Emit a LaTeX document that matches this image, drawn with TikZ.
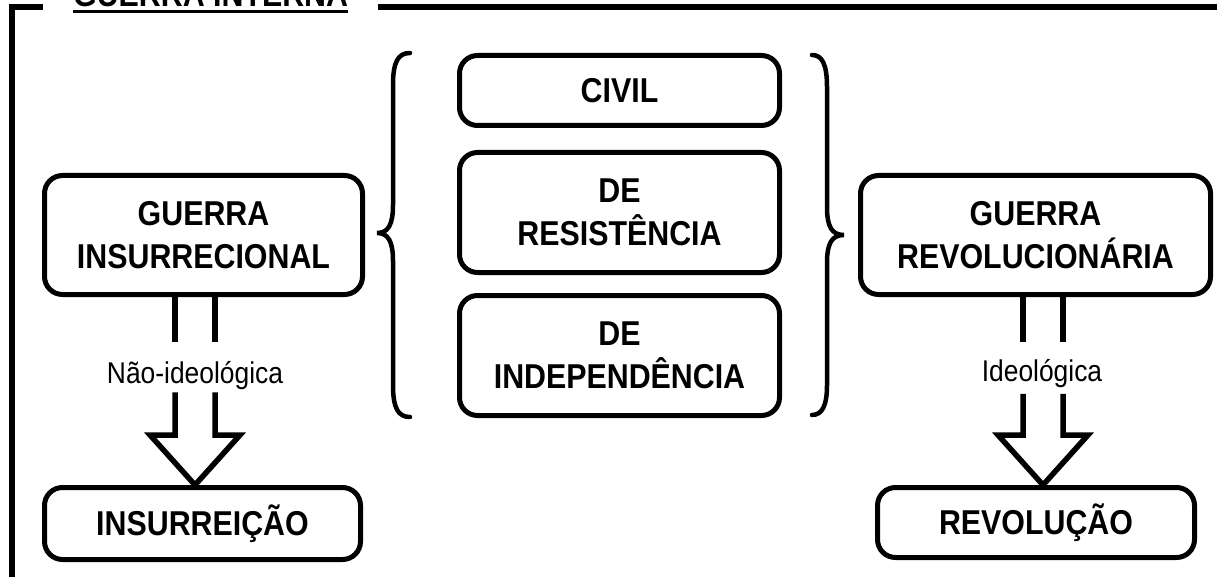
\documentclass[tikz,border=0pt]{standalone}
\usepackage{fontspec}
\setmainfont{Liberation Sans}[FakeStretch=0.88]
\usetikzlibrary{calc}
\begin{document}
\begin{tikzpicture}[x=1pt,y=-1pt,
  box/.style={draw, line width=5pt, rounded corners=18pt, align=center,
    font=\bfseries\fontsize{34.5}{43}\selectfont, inner sep=0pt},
  onebox/.style={box, text height=24.5pt, text depth=0pt},
  framepart/.style={line width=6pt, line join=miter},
  harrow/.style={line width=5.5pt, line join=miter},
  brace/.style={line width=4.5pt, line cap=round},
  lbl/.style={font=\fontsize{30}{34}\selectfont, inner sep=0pt, text height=21.5pt, text depth=0pt}]
\useasboundingbox (0,0) rectangle (1217,577);

% title and frame
\node[font=\bfseries\fontsize{34.5}{40}\selectfont, anchor=base west, inner sep=0pt] (title) at (73,7) {GUERRA INTERNA};
\draw[line width=2.5pt] ($(title.base west)+(0,4.5)$) -- ($(title.base east)+(0,4.5)$);
\draw[framepart] (43,7) -- (11.5,7) -- (11.5,590);
\draw[framepart] (378,7) -- (1230,7);

% boxes
\node[box, minimum width=318pt, minimum height=119pt] (gi) at (203.5,235) {GUERRA\\INSURRECIONAL};
\node[box, minimum width=350pt, minimum height=119pt] (gr) at (1035.5,235) {GUERRA\\REVOLUCIONÁRIA};
\node[onebox, minimum width=320pt, minimum height=70pt] (civ) at (619.5,90.5) {CIVIL};
\node[box, minimum width=320pt, minimum height=120pt] (res) at (619.5,212.5) {DE\\RESISTÊNCIA};
\node[box, minimum width=320pt, minimum height=120pt] (ind) at (619.5,355.5) {DE\\INDEPENDÊNCIA};
\node[onebox, minimum width=316pt, minimum height=72pt] (ins) at (202.5,523.5) {INSURREIÇÃO};
\node[onebox, minimum width=317pt, minimum height=70pt] (rev) at (1036,522.5) {REVOLUÇÃO};

% braces
\draw[brace] (410,53) .. controls (398,53) and (393,62) .. (393,85) -- (393,205)
  .. controls (393,225) and (388,233) .. (377,233)
  .. controls (388,233) and (393,241) .. (393,261) -- (393,385)
  .. controls (393,408) and (398,417) .. (410,417);
\draw[brace] (812,55) .. controls (822,55) and (827,64) .. (827,87) -- (827,207)
  .. controls (827,227) and (832,235) .. (844,235)
  .. controls (832,235) and (827,243) .. (827,263) -- (827,385)
  .. controls (827,406) and (822,415) .. (812,415);

% labels
\node[lbl] (l1) at (195,372.5) {Não-ideológica};
\node[lbl] (l2) at (1042,371) {Ideológica};

% hollow arrows
\coordinate (lax) at (195,0);
\coordinate (rax) at (1043,0);
\draw[harrow] ($(lax |- gi.south)+(-20,0)$) -- ($(lax |- l1.north)+(-20,-20)$);
\draw[harrow] ($(lax |- gi.south)+(20,0)$) -- ($(lax |- l1.north)+(20,-20)$);
\draw[harrow] ($(lax |- l1.south)+(-20,9)$) -- ($(lax |- ins.north)+(-20,-50)$)
  -- ($(lax |- ins.north)+(-45,-50)$) -- (lax |- ins.north)
  -- ($(lax |- ins.north)+(45,-50)$) -- ($(lax |- ins.north)+(20,-50)$)
  -- ($(lax |- l1.south)+(20,9)$);
\draw[harrow] ($(rax |- gr.south)+(-20,0)$) -- ($(rax |- l2.north)+(-20,-18)$);
\draw[harrow] ($(rax |- gr.south)+(20,0)$) -- ($(rax |- l2.north)+(20,-18)$);
\draw[harrow] ($(rax |- l2.south)+(-20,12)$) -- ($(rax |- rev.north)+(-20,-50)$)
  -- ($(rax |- rev.north)+(-45,-50)$) -- (rax |- rev.north)
  -- ($(rax |- rev.north)+(45,-50)$) -- ($(rax |- rev.north)+(20,-50)$)
  -- ($(rax |- l2.south)+(20,12)$);
\end{tikzpicture}
\end{document}
